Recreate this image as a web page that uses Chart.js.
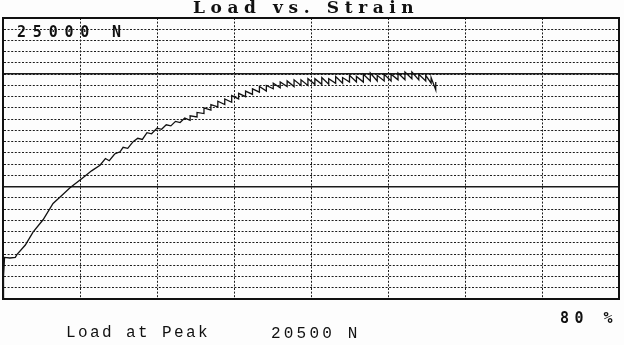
<!DOCTYPE html>
<html>
<head>
<meta charset="utf-8">
<script src="https://cdn.jsdelivr.net/npm/chart.js@4/dist/chart.umd.min.js"></script>
<style>
  html, body { margin: 0; padding: 0; background: #fdfdfd; }
  #wrap { position: relative; width: 624px; height: 345px; overflow: hidden; }
  canvas { position: absolute; left: 0; top: 0; }
  .t { position: absolute; white-space: pre; color: #111; }
  #title { left: 193px; top: -3px; font: bold 17px "DejaVu Serif", serif; letter-spacing: 5.6px; }
  #ymax { left: 17px; top: 23px; font: bold 15px "DejaVu Sans Mono", monospace; letter-spacing: 6.8px; }
  #xmax { left: 560px; top: 309px; font: bold 15px "DejaVu Sans Mono", monospace; letter-spacing: 5.5px; }
  #peakLbl { left: 66px; top: 324px; font: 16px "Liberation Mono", monospace; letter-spacing: 2.4px; }
  #peakVal { left: 271px; top: 325px; font: 16px "Liberation Mono", monospace; letter-spacing: 3.2px; }
</style>
</head>
<body>
<div id="wrap">
  <canvas id="c" width="624" height="345"></canvas>
  <div class="t" id="title">Load vs. Strain</div>
  <div class="t" id="ymax">25000 N</div>
  <div class="t" id="xmax">80 %</div>
  <div class="t" id="peakLbl">Load at Peak</div>
  <div class="t" id="peakVal">20500 N</div>
</div>
<script>
// Axis ranges (tick labels are printed as text overlays)
const xAxisMax = 80;      // %
const yAxisMax = 25000;   // N
const xGridStep = 10;
const yGridStep = 1000;
const solidLoadLines = [10000, 20000];

// Strain (%) readings
const strain = [
  0, 0.0, 0.1, 0.1, 0.2, 0.9, 1.6, 1.8, 2.9, 3.9, 5.2, 6.5, 7.7, 8.7, 10.3, 11.5, 12.6,
  13.3, 13.8, 14.5, 15.2, 15.6, 16.2, 16.9, 17.5, 18.1, 18.7, 19.3, 20.0, 20.6, 21.2, 21.8,
  22.4, 23.0, 23.6, 24.3, 24.3, 25.2, 25.2, 26.1, 26.1, 27.0, 27.0, 27.9, 27.9, 28.8, 28.8,
  29.7, 29.7, 30.6, 30.6, 31.5, 31.5, 32.4, 32.4, 33.3, 33.3, 34.2, 34.2, 35.1, 35.1, 36.0,
  36.0, 36.9, 36.9, 37.8, 37.8, 38.7, 38.7, 39.6, 39.6, 40.5, 40.5, 41.4, 41.4, 42.3, 42.3,
  43.2, 43.2, 44.1, 44.1, 45.0, 45.0, 45.9, 45.9, 46.8, 46.8, 47.7, 47.7, 48.6, 48.6, 49.5,
  49.5, 50.4, 50.4, 51.3, 51.3, 52.2, 52.2, 53.1, 53.1, 54.0, 54.0, 54.9, 54.9, 55.6, 55.6,
  56.2, 56.2
];
// Load (N) readings
const load = [
  0, 1400, 2800, 2000, 3700, 3650, 3700, 3950, 4800, 5950, 7050, 8500, 9250, 9900, 10750, 11400, 11900,
  12500, 12300, 12900, 13100, 13500, 13400, 14000, 14300, 14200, 14800, 14700, 15200, 15100, 15500, 15400,
  15800, 15700, 16100, 15900, 16300, 16200, 16600, 16500, 17000, 16800, 17300, 17100, 17600, 17300, 17800,
  17500, 18100, 17800, 18300, 18000, 18500, 18200, 18700, 18400, 18900, 18500, 19000, 18700, 19200, 18800,
  19300, 18900, 19400, 18900, 19500, 19000, 19500, 19000, 19600, 19100, 19600, 19100, 19700, 19100, 19600,
  19200, 19800, 19200, 19700, 19300, 19900, 19300, 19800, 19300, 20000, 19400, 20100, 19400, 19900, 19400,
  20000, 19400, 20000, 19500, 20100, 19500, 20200, 19600, 20200, 19500, 20000, 19400, 19900, 19200, 19700,
  18600, 19300
];

const points = strain.map((s, i) => ({ x: s, y: load[i] }));

const dotted = [2, 1.6];
const gridColor = '#1c1c1c';

new Chart(document.getElementById('c'), {
  type: 'line',
  data: {
    datasets: [{
      data: points,
      borderColor: '#111',
      borderWidth: 1.3,
      pointRadius: 0,
      tension: 0,
      fill: false
    }]
  },
  options: {
    responsive: false,
    animation: false,
    layout: { padding: { left: 3, top: 18, right: 5, bottom: 46 } },
    plugins: { legend: { display: false }, tooltip: { enabled: false }, title: { display: false } },
    scales: {
      x: {
        type: 'linear', position: 'bottom', min: 0, max: xAxisMax,
        ticks: { display: false, stepSize: xGridStep },
        grid: { color: gridColor, lineWidth: 1, drawTicks: false },
        border: { display: true, color: '#111', width: 2, dash: dotted }
      },
      xTop: {
        type: 'linear', position: 'top', min: 0, max: xAxisMax,
        ticks: { display: false },
        grid: { display: false, drawTicks: false },
        border: { display: true, color: '#111', width: 2 }
      },
      y: {
        type: 'linear', position: 'left', min: 0, max: yAxisMax,
        ticks: { display: false, stepSize: yGridStep },
        grid: { color: gridColor, lineWidth: 1, drawTicks: false },
        border: { display: true, color: '#111', width: 2, dash: dotted }
      },
      yRight: {
        type: 'linear', position: 'right', min: 0, max: yAxisMax,
        ticks: { display: false },
        afterBuildTicks: (s) => { s.ticks = solidLoadLines.map(v => ({ value: v })); },
        grid: { color: '#1a1a1a', lineWidth: 1.4, drawTicks: false },
        border: { display: true, color: '#111', width: 2 }
      }
    }
  }
});
</script>
</body>
</html>
